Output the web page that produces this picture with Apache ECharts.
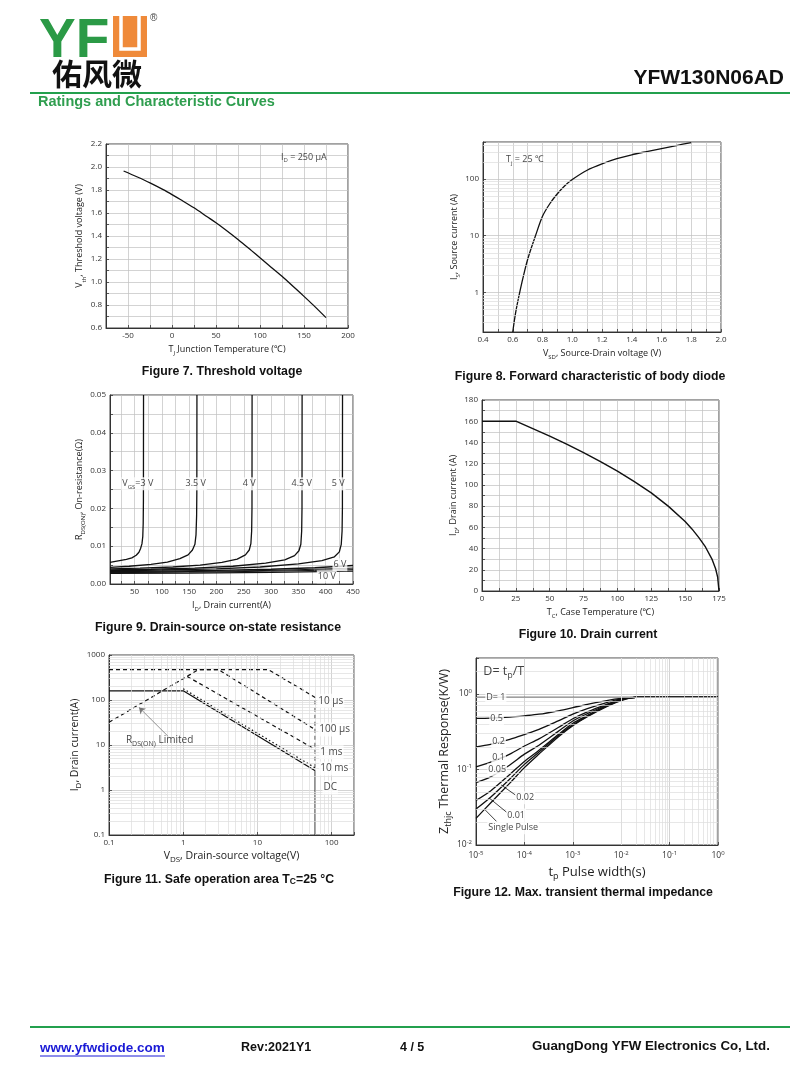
<!DOCTYPE html>
<html><head><meta charset="utf-8">
<script src="https://cdn.jsdelivr.net/npm/echarts@6/dist/echarts.min.js"></script>
<style>html,body{margin:0;padding:0;background:#fff}#c{width:800px;height:1086px}</style>
</head><body><div id="c"></div><script>
// ---------------- DATA ----------------
// Figure 7: threshold voltage vs junction temperature
const f7_tj  = [-55,-40,-25,-10,0,10,25,40,50,60,75,90,100,110,125,140,150,160,175];
const f7_vth = [1.965,1.915,1.862,1.803,1.76,1.715,1.645,1.567,1.515,1.459,1.37,1.275,1.21,1.146,1.05,0.945,0.875,0.803,0.69];
const f7_notes = [['I{sub|D} = 250 µA', 122.7, 2.087]];

// Figure 8: body diode forward characteristic
const f8_vsd = [0.6,0.62,0.65,0.68,0.7,0.72,0.75,0.8,0.85,0.9,0.95,1.0,1.1,1.2,1.3,1.4,1.5,1.6,1.7,1.8];
const f8_is  = [0.2,0.45,1.1,2.4,3.8,5.6,9.5,22,37,55,76,98,143,185,228,268,305,345,390,440];
const f8_notes = [['T{sub|j} = 25 ℃', 0.548, 218]];

// Figure 9: on-resistance vs drain current, per VGS
const f9_vgs3  = [[5,0.0057],[20,0.0061],[35,0.0065],[45,0.0069],[53,0.0076],[58,0.0084],[61,0.0094],[63.5,0.0106],[65,0.0125],[65.8,0.016],[66.2,0.022],[66.4,0.05]];
const f9_vgs35 = [[5,0.0044],[40,0.0047],[80,0.0052],[110,0.0058],[133,0.0067],[148,0.0077],[156,0.0090],[160.5,0.0105],[162.5,0.013],[163.6,0.018],[164,0.024],[164.2,0.05]];
const f9_vgs4  = [[5,0.0040],[60,0.0042],[120,0.0045],[170,0.0050],[210,0.0057],[238,0.0066],[253,0.0077],[260,0.0090],[263,0.0107],[264.4,0.014],[265,0.02],[265.2,0.05]];
const f9_vgs45 = [[5,0.0037],[80,0.0039],[160,0.0042],[230,0.0047],[290,0.0055],[325,0.0064],[343,0.0075],[351,0.0088],[354.5,0.0105],[356,0.014],[356.6,0.02],[356.8,0.05]];
const f9_vgs5  = [[5,0.0035],[100,0.0037],[200,0.0040],[280,0.0045],[350,0.0053],[393,0.0062],[416,0.0072],[425,0.0085],[428.5,0.0105],[430,0.014],[430.6,0.02],[430.8,0.05]];
const f9_vgs6  = [[5,0.0033],[100,0.0034],[200,0.0036],[300,0.0039],[380,0.0043],[450,0.0049]];
const f9_vgs7  = [[5,0.0031],[100,0.0032],[200,0.0034],[300,0.0036],[380,0.0039],[450,0.0042]];
const f9_vgs8  = [[5,0.0030],[100,0.0031],[200,0.0032],[300,0.0034],[380,0.0036],[450,0.0038]];
const f9_vgs10 = [[5,0.0028],[150,0.0029],[300,0.0031],[450,0.0034]];
const f9_tickValues  = [25,50,75,100,125,150,175,200,225,250,275,300,325,350,375,400,425,450];
const f9_labelValues = [50,100,150,200,250,300,350,400,450];
const f9_notes = [['V{sub|GS}=3 V', 56, 0.0265], ['3.5 V', 162, 0.0265], ['4 V', 260, 0.0265], ['4.5 V', 356, 0.0265], ['5 V', 423, 0.0265], ['6 V', 426, 0.0051], ['10 V', 402, 0.0019]];

// Figure 10: drain current vs case temperature
const f10_tc = [0,25,37.5,50,62.5,75,87.5,100,112.5,125,137.5,150,155,160,165,170,172.5,174,175];
const f10_id = [160,160,153,146,138.5,130.5,122,113,103,92.5,80,65.5,58.5,50.5,41.5,29.5,21,13,0];

// Figure 11: safe operating area
const f11_10us  = [[0.1,471],[14.1,471],[60,114],[60,3]];
const f11_100us = [[0.1,32],[1.6,471],[3,471],[60,22]];
const f11_1ms   = [[1.13,334],[60,8]];
const f11_10ms  = [[1,178],[60,3.1]];
const f11_dc    = [[0.1,160],[1,160],[60,2.67],[60,0.1]];
const f11_notes = [['10 µs', 64, 96], ['100 µs', 66, 22], ['1 ms', 68, 6.9], ['10 ms', 68, 3.0], ['DC', 75, 1.14]];
const f11_rdsNote = [['R{sub|DS(ON)} Limited', 0.164, 12.5]];
const f11_arrow = [[0.627,15.5],[0.254,68.5]];

// Figure 12: transient thermal impedance
const f12_tp     = [1e-5,2e-5,5e-5,1e-4,2e-4,5e-4,1e-3,2e-3,5e-3,1e-2,2e-2,1];
const f12_d1     = [0.9,0.9,0.9,0.9,0.9,0.9,0.9,0.9,0.9,0.9,0.9,0.9];
const f12_d05    = [0.475,0.48,0.495,0.515,0.54,0.6,0.66,0.73,0.82,0.875,0.9,0.9];
const f12_d02    = [0.20,0.215,0.25,0.29,0.34,0.44,0.54,0.64,0.77,0.86,0.9,0.9];
const f12_d01    = [0.108,0.125,0.16,0.205,0.255,0.36,0.47,0.58,0.73,0.85,0.9,0.9];
const f12_d005   = [0.067,0.08,0.115,0.16,0.21,0.32,0.44,0.55,0.715,0.84,0.9,0.9];
const f12_d002   = [0.039,0.052,0.086,0.128,0.18,0.29,0.41,0.52,0.70,0.835,0.9,0.9];
const f12_d001   = [0.030,0.043,0.075,0.117,0.17,0.28,0.39,0.51,0.69,0.83,0.9,0.9];
const f12_single = [0.0225,0.036,0.066,0.106,0.16,0.27,0.38,0.50,0.68,0.82,0.9,0.9];
const f12_notes = [['D= 1',1.55e-5,0.9],['0.5',1.88e-5,0.47],['0.2',2.07e-5,0.235],['0.1',2.07e-5,0.143],['0.05',1.71e-5,0.099],['0.02',6.5e-5,0.0423],['0.01',4.2e-5,0.025],['Single Pulse',1.71e-5,0.0169]];
const f12_title = [['D= t{sub|p}/T', 1.35e-5, 2.0]];
const f12_leaders = [[[3.3e-5,0.0625],[6.5e-5,0.046]],[[1.9e-5,0.0416],[4.4e-5,0.0268]],[[1.56e-5,0.029],[2.7e-5,0.0203]]];

// ---------------- HELPERS ----------------
const FF = "'Open Sans','Noto Sans',sans-serif";
const FA = "'Liberation Sans',Arial,sans-serif";
const zip = (a, b) => a.map((v, i) => [v, b[i]]);
const isPow = v => Math.abs(Math.log10(v) - Math.round(Math.log10(v))) < 1e-6;
function minorLog(d0, d1, lo, hi) { const r = []; for (let d = d0; d <= d1; d++) for (let m = 2; m <= 9; m++) { const v = +(m * Math.pow(10, d)).toPrecision(6); if (v > lo && v < hi) r.push(v); } return r; }

function subRich(fs, color) {
  return { sub: { fontSize: Math.round(fs * 0.72), fontFamily: FF, color: color || '#222', verticalAlign: 'bottom', lineHeight: Math.round(fs * 0.72) } };
}
function nameStyle(fs) { return { fontSize: fs, color: '#222', fontFamily: FF, lineHeight: fs + 5, rich: subRich(fs) }; }

function axis(o) {
  const base = {
    axisLine: { show: true, onZero: false, lineStyle: { color: '#333', width: 1 } },
    axisTick: { show: true, inside: true, length: 3, lineStyle: { color: '#333', width: 0.8 } },
    axisLabel: { color: '#333', fontSize: 8, fontFamily: FF, margin: 4 },
    splitLine: { show: true, lineStyle: { color: '#c0c0c0', width: 0.7 } },
    nameLocation: 'middle'
  };
  for (const k in o) {
    if (base[k] && typeof base[k] === 'object' && typeof o[k] === 'object' && !Array.isArray(o[k])) base[k] = Object.assign({}, base[k], o[k]);
    else base[k] = o[k];
  }
  return base;
}
function curve(idx, data, opt) {
  return Object.assign({ type: 'line', xAxisIndex: idx, yAxisIndex: idx, data: data, symbol: 'none', silent: true, z: 3,
    lineStyle: { color: '#111', width: 1.3 } }, opt || {});
}
function notes(idx, items, opt) {
  const s = {
    type: 'scatter', xAxisIndex: idx, yAxisIndex: idx, symbolSize: 1, silent: true, z: 6,
    itemStyle: { color: 'rgba(0,0,0,0)' },
    data: items.map(n => ({ name: n[0], value: [n[1], n[2]] })),
    label: { show: true, position: 'inside', formatter: p => p.name, color: '#111', fontSize: opt.fs, fontFamily: FF,
      align: opt.align || 'left', verticalAlign: 'middle', lineHeight: opt.fs + 4,
      backgroundColor: opt.bg || 'transparent', padding: opt.pad || [0, 1], rich: subRich(opt.fs, '#111') }
  };
  if (opt.lines) s.markLine = { silent: true, animation: false, symbol: opt.arrow ? ['none', 'arrow'] : ['none', 'none'], symbolSize: 6,
    label: { show: false }, lineStyle: { color: opt.lineColor || '#111', width: 0.8, type: 'solid' },
    data: opt.lines.map(l => [{ coord: l[0] }, { coord: l[1] }]) };
  return s;
}
function gridMarks(idx, xs, ys) {
  return { type: 'line', xAxisIndex: idx, yAxisIndex: idx, data: [], silent: true, z: 1, symbol: 'none',
    markLine: { silent: true, animation: false, symbol: ['none', 'none'], label: { show: false },
      lineStyle: { color: '#dcdcdc', width: 0.7, type: 'solid' },
      data: xs.map(v => ({ xAxis: v })).concat(ys.map(v => ({ yAxis: v }))) } };
}
const fmtTenth2 = v => { const k = Math.round(v * 10); return k % 2 === 0 ? (k / 10).toFixed(1) : ''; };
const fmtPlainPow = v => isPow(v) ? String(+v.toPrecision(3)) : '';
const fmtSupPow = v => isPow(v) ? '10{sup|' + Math.round(Math.log10(v)) + '}' : '';
const supRich = { sup: { fontSize: 6, fontFamily: FF, color: '#333', verticalAlign: 'top', lineHeight: 6 } };

// ---------------- GRAPHIC (page furniture) ----------------
const G = [];
function T(text, x, y, font, fill, align, rich) {
  G.push({ type: 'text', x: x, y: y, silent: true, z: 10, style: { text: text, font: font, fill: fill || '#111',
    align: align || 'left', textAlign: align || 'left', verticalAlign: 'middle', textVerticalAlign: 'middle', rich: rich } });
}
function L(x1, y1, x2, y2, color, w) { G.push({ type: 'line', silent: true, shape: { x1, y1, x2, y2 }, style: { stroke: color, lineWidth: w } }); }
// logo
T('YF', 39, 42, 'bold 55px ' + FA, '#2b9a46');
G.push({ type: 'rect', silent: true, shape: { x: 113, y: 16, width: 34, height: 41 }, style: { fill: '#ef8a3a' } });
G.push({ type: 'polyline', silent: true, shape: { points: [[121, 16], [121, 49], [139, 49], [139, 16]] }, style: { stroke: '#fff', lineWidth: 3.5, fill: null } });
T('®', 150, 18, '10px ' + FA, '#444');
T('佑风微', 52, 74, 'bold 30px "Noto Sans CJK SC"', '#111');
T('YFW130N06AD', 784, 78, 'bold 21px ' + FA, '#111', 'right');
L(30, 93, 790, 93, '#23a04d', 2);
T('Ratings and Characteristic Curves', 38, 102, 'bold 14.5px ' + FA, '#2f9e4f');
// captions
const capFont = 'bold 12.3px ' + FA;
T('Figure 7. Threshold voltage', 222, 372, capFont, '#111', 'center');
T('Figure 8. Forward characteristic of body diode', 590, 377, capFont, '#111', 'center');
T('Figure 9. Drain-source on-state resistance', 218, 628, capFont, '#111', 'center');
T('Figure 10. Drain current', 588, 635, capFont, '#111', 'center');
T('Figure 11. Safe operation area T{s|C}=25 °C', 219, 880, capFont, '#111', 'center', { s: { fontSize: 8.5, fontWeight: 'bold', fontFamily: FA, verticalAlign: 'bottom', lineHeight: 9 } });
T('Figure 12. Max. transient thermal impedance', 583, 893, capFont, '#111', 'center');
// footer
L(30, 1027, 790, 1027, '#23a04d', 2);
T('www.yfwdiode.com', 40, 1048, 'bold 13.5px ' + FA, '#1a1ad6');
L(40, 1056, 165, 1056, '#1a1ad6', 1);
T('Rev:2021Y1', 241, 1048, 'bold 12.5px ' + FA, '#111');
T('4 / 5', 400, 1048, 'bold 12.5px ' + FA, '#111');
T('GuangDong YFW Electronics Co, Ltd.', 532, 1046, 'bold 13.3px ' + FA, '#111');

// ---------------- OPTION ----------------
const gridBox = { show: true, borderColor: '#444', borderWidth: 1, backgroundColor: 'transparent' };
const option = {
  animation: false,
  backgroundColor: '#fff',
  textStyle: { fontFamily: FF },
  graphic: G,
  grid: [
    Object.assign({ left: 106, top: 144, width: 242, height: 184 }, gridBox),
    Object.assign({ left: 483, top: 142, width: 238, height: 190 }, gridBox),
    Object.assign({ left: 110, top: 395, width: 243, height: 189 }, gridBox),
    Object.assign({ left: 482, top: 400, width: 237, height: 191 }, gridBox),
    Object.assign({ left: 109, top: 655, width: 245, height: 180 }, gridBox),
    Object.assign({ left: 476, top: 658, width: 242, height: 187 }, gridBox)
  ],
  xAxis: [
    axis({ gridIndex: 0, type: 'value', min: -75, max: 200, interval: 25,
      axisLabel: { formatter: v => (Math.round(v) % 50 === 0 ? String(Math.round(v)) : '') },
      name: 'T{sub|J} Junction Temperature (℃)', nameGap: 14, nameTextStyle: nameStyle(9) }),
    axis({ gridIndex: 1, type: 'value', min: 0.4, max: 2.0, interval: 0.1, axisLabel: { formatter: fmtTenth2 },
      name: 'V{sub|SD}, Source-Drain voltage (V)', nameGap: 14, nameTextStyle: nameStyle(9) }),
    axis({ gridIndex: 2, type: 'value', min: 5, max: 450,
      axisTick: { customValues: f9_tickValues }, axisLabel: { customValues: f9_labelValues },
      name: 'I{sub|D}, Drain current(A)', nameGap: 14, nameTextStyle: nameStyle(9) }),
    axis({ gridIndex: 3, type: 'value', min: 0, max: 175, interval: 12.5,
      axisLabel: { formatter: v => (Math.round(v * 2) % 50 === 0 ? String(Math.round(v)) : '') },
      name: 'T{sub|C}, Case Temperature (℃)', nameGap: 14, nameTextStyle: nameStyle(9) }),
    axis({ gridIndex: 4, type: 'log', min: 0.1, max: 200, axisLabel: { formatter: fmtPlainPow },
      name: 'V{sub|DS}, Drain-source voltage(V)', nameGap: 13, nameTextStyle: nameStyle(10.5) }),
    axis({ gridIndex: 5, type: 'log', min: 1e-5, max: 1, axisLabel: { formatter: fmtSupPow, fontSize: 8.5, lineHeight: 12, rich: supRich, margin: 5 },
      name: 't{sub|p} Pulse width(s)', nameGap: 13, nameTextStyle: nameStyle(13) })
  ],
  yAxis: [
    axis({ gridIndex: 0, type: 'value', min: 0.6, max: 2.2, interval: 0.1, axisLabel: { formatter: fmtTenth2 },
      name: 'V{sub|th}, Threshold voltage (V)', nameGap: 19, nameTextStyle: nameStyle(9) }),
    axis({ gridIndex: 1, type: 'log', min: 0.2, max: 450, axisLabel: { formatter: fmtPlainPow },
      name: 'I{sub|S}, Source current (A)', nameGap: 15, nameTextStyle: nameStyle(9) }),
    axis({ gridIndex: 2, type: 'value', min: 0, max: 0.05, interval: 0.005,
      axisLabel: { formatter: v => { const k = Math.round(v * 1000); return k % 10 === 0 ? (k / 1000).toFixed(2) : ''; } },
      name: 'R{sub|DS(ON)}, On-resistance(Ω)', nameGap: 20, nameTextStyle: nameStyle(9) }),
    axis({ gridIndex: 3, type: 'value', min: 0, max: 180, interval: 10,
      axisLabel: { formatter: v => (Math.round(v) % 20 === 0 ? String(Math.round(v)) : '') },
      name: 'I{sub|D}, Drain current (A)', nameGap: 22, nameTextStyle: nameStyle(9) }),
    axis({ gridIndex: 4, type: 'log', min: 0.1, max: 1000, axisLabel: { formatter: fmtPlainPow },
      name: 'I{sub|D}, Drain current(A)', nameGap: 26, nameTextStyle: nameStyle(10.5) }),
    axis({ gridIndex: 5, type: 'log', min: 0.01, max: 3, axisLabel: { formatter: fmtSupPow, fontSize: 8.5, lineHeight: 12, rich: supRich },
      name: 'Z{sub|thjc} Thermal Response(K/W)', nameGap: 17, nameTextStyle: nameStyle(12.5) })
  ],
  series: [
    gridMarks(1, [], minorLog(-1, 2, 0.2, 450)),
    gridMarks(4, minorLog(-1, 1, 0.1, 200), minorLog(-1, 2, 0.1, 1000)),
    gridMarks(5, minorLog(-5, -1, 1e-5, 1), minorLog(-2, 0, 0.01, 3)),
    // Fig 7
    curve(0, zip(f7_tj, f7_vth), { smooth: 0.3 }),
    notes(0, f7_notes, { fs: 9 }),
    // Fig 8
    curve(1, zip(f8_vsd, f8_is), { smooth: 0.3 }),
    notes(1, f8_notes, { fs: 9 }),
    // Fig 9
    curve(2, f9_vgs3), curve(2, f9_vgs35), curve(2, f9_vgs4), curve(2, f9_vgs45), curve(2, f9_vgs5),
    curve(2, f9_vgs6), curve(2, f9_vgs7, { lineStyle: { color: '#111', width: 1 } }), curve(2, f9_vgs8, { lineStyle: { color: '#111', width: 1 } }), curve(2, f9_vgs10),
    notes(2, f9_notes, { fs: 9, align: 'center', bg: '#fff' }),
    // Fig 10
    curve(3, zip(f10_tc, f10_id), { lineStyle: { color: '#111', width: 1.4 } }),
    // Fig 11
    curve(4, f11_10us, { lineStyle: { color: '#111', width: 1.2, type: [4, 3] } }),
    curve(4, f11_100us, { lineStyle: { color: '#111', width: 1.2, type: [4, 3] } }),
    curve(4, f11_1ms, { lineStyle: { color: '#111', width: 1.2, type: [4, 3] } }),
    curve(4, f11_10ms, { lineStyle: { color: '#111', width: 1.2, type: [1.5, 2.5] } }),
    curve(4, f11_dc, { lineStyle: { color: '#111', width: 1.3 } }),
    notes(4, f11_notes, { fs: 10, bg: '#fff' }),
    notes(4, f11_rdsNote, { fs: 10, lines: [f11_arrow], arrow: true, lineColor: '#777' }),
    // Fig 12
    curve(5, zip(f12_tp, f12_d1)),
    curve(5, zip(f12_tp, f12_d05), { smooth: 0.3 }),
    curve(5, zip(f12_tp, f12_d02), { smooth: 0.3 }),
    curve(5, zip(f12_tp, f12_d01), { smooth: 0.3 }),
    curve(5, zip(f12_tp, f12_d005), { smooth: 0.3 }),
    curve(5, zip(f12_tp, f12_d002), { smooth: 0.3 }),
    curve(5, zip(f12_tp, f12_d001), { smooth: 0.3 }),
    curve(5, zip(f12_tp, f12_single), { smooth: 0.3 }),
    notes(5, f12_notes, { fs: 9, bg: '#fff', lines: f12_leaders }),
    notes(5, f12_title, { fs: 12.5 })
  ]
};
const chart = echarts.init(document.getElementById('c'), null, { renderer: 'canvas' });
chart.setOption(option);
</script></body></html>
